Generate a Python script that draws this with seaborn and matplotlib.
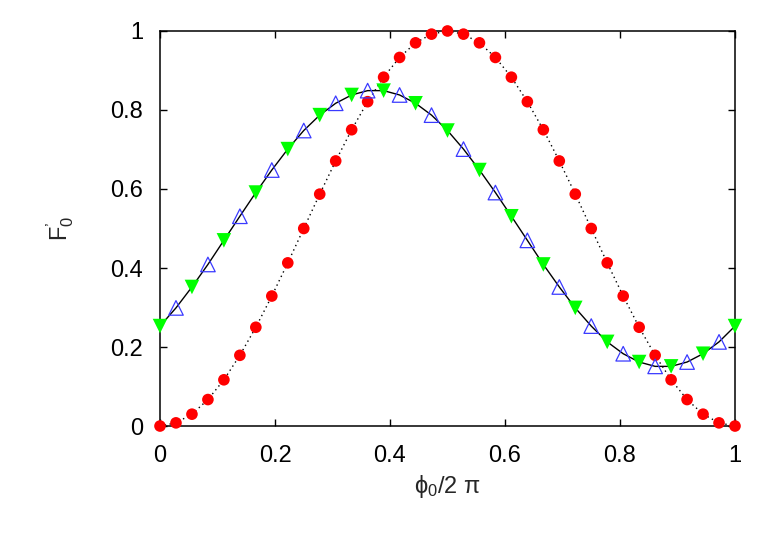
"""gnuplot風のF'_0 対 phi_0/2pi の図をseabornで再現する。"""

import matplotlib

matplotlib.use("Agg")
import matplotlib.pyplot as plt
import numpy as np
import pandas as pd
import seaborn as sns

# 横軸は 1/36 刻み（図から読み取った位置）
steps = list(range(37))
x_grid = [k / 36 for k in steps]

# 赤丸（点線）
red_y = [0.000, 0.008, 0.030, 0.067, 0.117, 0.179, 0.250, 0.329, 0.413,
         0.500, 0.587, 0.671, 0.750, 0.821, 0.883, 0.933, 0.970, 0.992,
         1.000, 0.992, 0.970, 0.933, 0.883, 0.821, 0.750, 0.671, 0.587,
         0.500, 0.413, 0.329, 0.250, 0.179, 0.117, 0.067, 0.030, 0.008,
         0.000]

# 緑の下向き三角（偶数番目の位置）
green_y = [0.253, 0.352, 0.470, 0.591, 0.701, 0.787, 0.838, 0.849, 0.817,
           0.748, 0.648, 0.531, 0.409, 0.299, 0.213, 0.162, 0.151, 0.183,
           0.253]

# 青の白抜き三角（奇数番目の位置）
blue_y = [0.299, 0.409, 0.531, 0.648, 0.748, 0.817, 0.849, 0.838, 0.787,
          0.701, 0.591, 0.470, 0.352, 0.253, 0.183, 0.151, 0.162, 0.213]

x_ticks = [0, 0.2, 0.4, 0.6, 0.8, 1.0]
x_tick_labels = ["0", "0.2", "0.4", "0.6", "0.8", "1"]
y_ticks = [0, 0.2, 0.4, 0.6, 0.8, 1.0]
y_tick_labels = ["0", "0.2", "0.4", "0.6", "0.8", "1"]

red = pd.DataFrame({"x": x_grid, "y": red_y})
green = pd.DataFrame({"x": x_grid[0::2], "y": green_y})
blue = pd.DataFrame({"x": x_grid[1::2], "y": blue_y})
# 黒の実線は緑と青の点をつないだもの
black = pd.concat([green, blue]).sort_values("x")

sns.set_theme(style="ticks")
plt.rcParams["font.family"] = ["Liberation Sans", "DejaVu Sans"]
plt.rcParams["mathtext.fontset"] = "custom"
plt.rcParams["mathtext.rm"] = "Liberation Sans"
plt.rcParams["mathtext.it"] = "Liberation Sans"
plt.rcParams["mathtext.fallback"] = "stixsans"

figure = plt.figure(figsize=(7.63, 5.34), dpi=100)
axis = figure.add_axes([0.2097, 0.2022, 0.7536, 0.7398])

sns.lineplot(data=black, x="x", y="y", color="black", linewidth=1.0,
             sort=False, estimator=None, ax=axis)
sns.lineplot(data=red, x="x", y="y", color="black", linewidth=1.0,
             linestyle=(0, (1, 2.5)), sort=False, estimator=None, ax=axis)

sns.scatterplot(data=red, x="x", y="y", marker="o", s=70, color="#ff0000",
                edgecolor="none", ax=axis, clip_on=False, zorder=3)
sns.scatterplot(data=blue, x="x", y="y", marker="^", s=110,
                facecolor="none", edgecolor="#3a3aff", linewidth=0.9,
                ax=axis, clip_on=False, zorder=4)
sns.scatterplot(data=green, x="x", y="y", marker="v", s=110, color="#00ff00",
                edgecolor="none", ax=axis, clip_on=False, zorder=4)

axis.set_xlim(0, 1)
axis.set_ylim(0, 1)
axis.set_xticks(x_ticks)
axis.set_xticklabels(x_tick_labels)
axis.set_yticks(y_ticks)
axis.set_yticklabels(y_tick_labels)
axis.tick_params(direction="in", length=5, width=1, labelsize=17,
                 top=True, right=True, pad=12, colors="black")
axis.tick_params(axis="x", pad=14)
for spine in axis.spines.values():
    spine.set_linewidth(1.1)
    spine.set_color("black")

axis.set_xlabel(r"$\mathregular{ϕ_0/2\ π}$", fontsize=17, labelpad=4)
axis.set_ylabel(r"$\mathregular{F^{’}_0}$", fontsize=17, labelpad=25)

figure.savefig("out.png", dpi=100)
plt.close(figure)
